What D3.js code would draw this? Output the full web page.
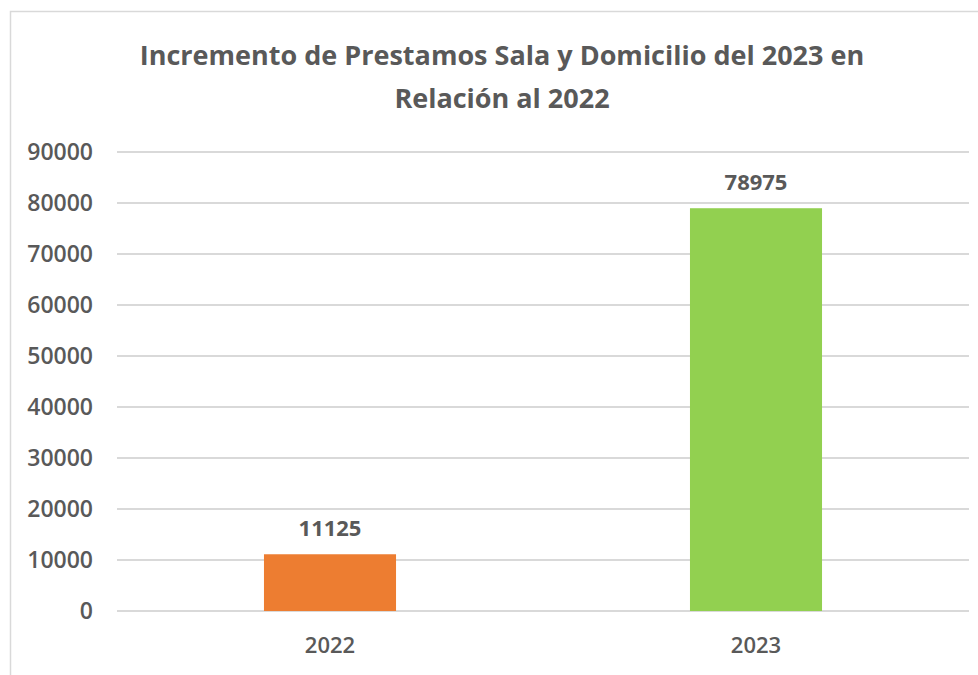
<!DOCTYPE html>
<html>
<head>
<meta charset="utf-8">
<script src="https://cdn.jsdelivr.net/npm/d3@7"></script>
<style>
  body { margin: 0; background: #fff; }
  text { font-family: "Open Sans", sans-serif; fill: #595959; }
</style>
</head>
<body>
<div id="chart"></div>
<script>
// data
var categories = ["2022", "2023"];
var values = [11125, 78975];
var colors = ["#ED7D31", "#92D050"];
var yTicks = [0, 10000, 20000, 30000, 40000, 50000, 60000, 70000, 80000, 90000];
var titleLines = ["Incremento de Prestamos Sala y Domicilio del 2023 en", "Relación al 2022"];

var W = 978, H = 675;
var margin = { top: 152, right: 9, bottom: 64, left: 117 },
  width = W - margin.left - margin.right,
  height = H - margin.top - margin.bottom;

var svg = d3.select("#chart").append("svg")
  .attr("width", W)
  .attr("height", H);

// chart frame
svg.append("path")
  .attr("d", "M10.5," + H + "V11.5H" + W)
  .attr("fill", "none")
  .attr("stroke", "#d9d9d9")
  .attr("stroke-width", 1.5);

// title
svg.selectAll(".title")
  .data(titleLines)
  .enter().append("text")
  .attr("class", "title")
  .attr("x", 502)
  .attr("y", function (d, i) { return 65 + i * 43; })
  .attr("text-anchor", "middle")
  .style("font-size", "27px")
  .style("font-weight", 700)
  .text(function (d) { return d; });

var g = svg.append("g")
  .attr("transform", "translate(" + margin.left + "," + margin.top + ")");

var x = d3.scaleBand().domain(categories).range([0, width]);
var y = d3.scaleLinear().domain([0, 90000]).range([height, 0]);

// gridlines
g.selectAll(".grid")
  .data(yTicks)
  .enter().append("line")
  .attr("x1", 0)
  .attr("x2", width)
  .attr("y1", function (d) { return y(d); })
  .attr("y2", function (d) { return y(d); })
  .attr("stroke", "#d9d9d9")
  .attr("stroke-width", 2);

// y axis labels
var yAxis = d3.axisLeft(y).tickValues(yTicks).tickSize(0).tickPadding(24).tickFormat(d3.format("d"));
g.append("g").call(yAxis)
  .call(function (s) { s.select(".domain").remove(); })
  .selectAll("text")
  .style("font-size", "23px")
  .style("font-weight", 600)
  .attr("fill", "#595959");

// bars
var barW = x.bandwidth() * 0.31;
g.selectAll(".bar")
  .data(values)
  .enter().append("rect")
  .attr("x", function (d, i) { return x(categories[i]) + (x.bandwidth() - barW) / 2; })
  .attr("width", barW)
  .attr("y", function (d) { return y(d); })
  .attr("height", function (d) { return height - y(d); })
  .attr("fill", function (d, i) { return colors[i]; });

// data labels
g.selectAll(".lbl")
  .data(values)
  .enter().append("text")
  .attr("x", function (d, i) { return x(categories[i]) + x.bandwidth() / 2; })
  .attr("y", function (d) { return y(d) - 18; })
  .attr("text-anchor", "middle")
  .style("font-size", "22px")
  .style("font-weight", 700)
  .text(function (d) { return d; });

// x axis labels
var xAxis = d3.axisBottom(x).tickSize(0).tickPadding(26);
g.append("g")
  .attr("transform", "translate(0," + height + ")")
  .call(xAxis)
  .call(function (s) { s.select(".domain").remove(); })
  .selectAll("text")
  .style("font-size", "22px")
  .style("font-weight", 600)
  .attr("fill", "#595959");
</script>
</body>
</html>
